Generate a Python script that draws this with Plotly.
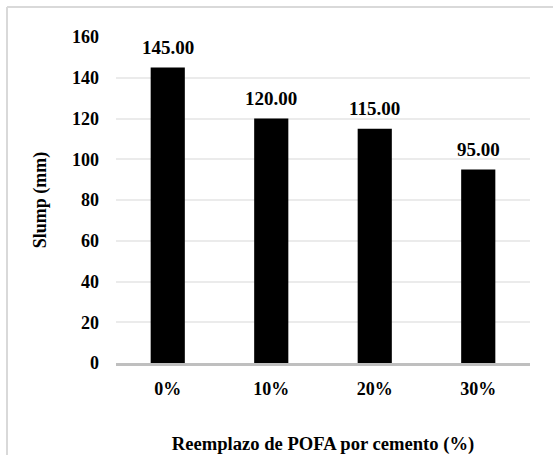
import plotly.graph_objects as go

categories = ["0%", "10%", "20%", "30%"]
slump = [145.00, 120.00, 115.00, 95.00]
labels = [f"{v:.2f}" for v in slump]
y_ticks = [0, 20, 40, 60, 80, 100, 120, 140, 160]

FONT = "Liberation Serif, Times New Roman, serif"
BF = dict(family=FONT, size=18, color="black", weight="bold")

fig = go.Figure(go.Bar(
    x=categories, y=slump,
    marker=dict(color="black", line=dict(width=0)),
    cliponaxis=False, hoverinfo="skip",
))

for c, v, t in zip(categories, slump, labels):
    fig.add_annotation(x=c, y=v, text=t, showarrow=False, yshift=20,
                       yanchor="middle", font=dict(BF, size=19))

W, H = 553, 455
L, R, T, B = 116, 23, 37, 92
pw, ph = W - L - R, H - T - B

fig.update_layout(
    width=W, height=H,
    margin=dict(l=L, r=R, t=T, b=B, autoexpand=False),
    paper_bgcolor="white", plot_bgcolor="white",
    bargap=0.67, showlegend=False,
    font=BF,
    xaxis=dict(
        showline=True, linecolor="#bfbfbf", linewidth=2.5,
        ticks="", ticklabelstandoff=8, tickfont=BF,
        title=dict(text="Reemplazo de POFA por cemento (%)",
                   font=dict(BF, size=18.6), standoff=39),
    ),
    yaxis=dict(
        range=[0, 160], tickvals=y_ticks,
        showgrid=True, gridcolor="#ebebeb", gridwidth=1.5,
        zeroline=False, ticks="", ticklabelstandoff=16, tickfont=BF,
        title=dict(text="Slump (mm)", font=BF, standoff=20),
    ),
)

# chart border (top and left edges visible)
bx = (7 - L) / pw
by = 1 + (T - 7) / ph
fig.add_shape(type="line", xref="paper", yref="paper", x0=bx, x1=2, y0=by, y1=by,
              line=dict(color="#d9d9d9", width=2))
fig.add_shape(type="line", xref="paper", yref="paper", x0=bx, x1=bx, y0=by, y1=-2,
              line=dict(color="#d9d9d9", width=2))

fig.write_html("out.html", config={"displayModeBar": False},
               post_script="document.body.style.margin='0px';")
